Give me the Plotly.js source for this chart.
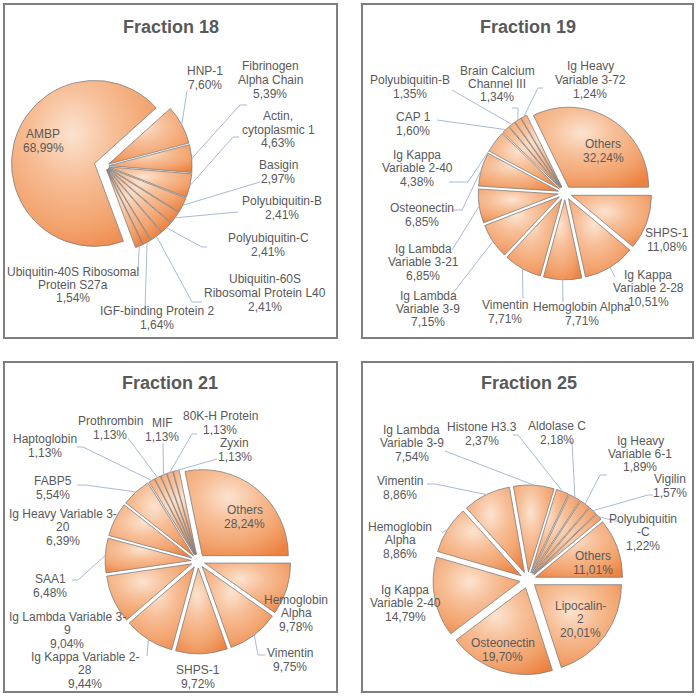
<!DOCTYPE html>
<html>
<head>
<meta charset="utf-8">
<script src="https://cdn.plot.ly/plotly-3.0.1.min.js"></script>
<style>html,body{margin:0;padding:0;background:#fff}</style>
</head>
<body>
<div id="chart" style="width:700px;height:700px"></div>
<script>
// ---------------- data ----------------
const cats18 = ['HNP-1','Fibrinogen Alpha Chain','Actin, cytoplasmic 1','Basigin','Polyubiquitin-B','Polyubiquitin-C','Ubiquitin-60S Ribosomal Protein L40','IGF-binding Protein 2','Ubiquitin-40S Ribosomal Protein S27a','AMBP'];
const vals18 = [7.60,5.39,4.63,2.97,2.41,2.41,2.41,1.64,1.54,68.99];
const wrap18 = ['HNP-1','Fibrinogen|Alpha Chain','Actin,|cytoplasmic 1','Basigin','Polyubiquitin-B','Polyubiquitin-C','Ubiquitin-60S|Ribosomal Protein L40','IGF-binding Protein 2','Ubiquitin-40S Ribosomal|Protein S27a','AMBP'];

const cats19 = ['SHPS-1','Ig Kappa Variable 2-28','Hemoglobin Alpha','Vimentin','Ig Lambda Variable 3-9','Ig Lambda Variable 3-21','Osteonectin','Ig Kappa Variable 2-40','CAP 1','Polyubiquitin-B','Brain Calcium Channel III','Ig Heavy Variable 3-72','Others'];
const vals19 = [11.08,10.51,7.71,7.71,7.15,6.85,6.85,4.38,1.60,1.35,1.34,1.24,32.24];
const wrap19 = ['SHPS-1','Ig Kappa|Variable 2-28','Hemoglobin Alpha','Vimentin','Ig Lambda|Variable 3-9','Ig Lambda|Variable 3-21','Osteonectin','Ig Kappa|Variable 2-40','CAP 1','Polyubiquitin-B','Brain Calcium|Channel III','Ig Heavy|Variable 3-72','Others'];

const cats21 = ['Hemoglobin Alpha','Vimentin','SHPS-1','Ig Kappa Variable 2-28','Ig Lambda Variable 3-9','SAA1','Ig Heavy Variable 3-20','FABP5','Haptoglobin','Prothrombin','MIF','80K-H Protein','Zyxin','Others'];
const vals21 = [9.78,9.75,9.72,9.44,9.04,6.48,6.39,5.54,1.13,1.13,1.13,1.13,1.13,28.24];
const wrap21 = ['Hemoglobin|Alpha','Vimentin','SHPS-1','Ig Kappa Variable 2-|28','Ig Lambda Variable 3-|9','SAA1','Ig Heavy Variable 3-|20','FABP5','Haptoglobin','Prothrombin','MIF','80K-H Protein','Zyxin','Others'];

const cats25 = ['Lipocalin-2','Osteonectin','Ig Kappa Variable 2-40','Hemoglobin Alpha','Vimentin','Ig Lambda Variable 3-9','Histone H3.3','Aldolase C','Ig Heavy Variable 6-1','Vigilin','Polyubiquitin-C','Others'];
const vals25 = [20.01,19.70,14.79,8.86,8.86,7.54,2.37,2.18,1.89,1.57,1.22,11.01];
const wrap25 = ['Lipocalin-|2','Osteonectin','Ig Kappa|Variable 2-40','Hemoglobin|Alpha','Vimentin','Ig Lambda|Variable 3-9','Histone H3.3','Aldolase C','Ig Heavy|Variable 6-1','Vigilin','Polyubiquitin|-C','Others'];

// ---------------- label placement (px: text centre, leader end, elbow x) ----------------
const place18 = [[205,78,187,91],[270,80,240,105,247],[278,130,233,137,239],[278,172,260,182],[282,208,238,212],[268,245,202,247,207],[265,293,192,302,202],[157,318,145,310],[73,285,138,271],[43,141]];
const place19 = [[667,240],[648,288,615,277],[582,314,563,302],[505,312,523,298],[428,309,453,293],[423,262,452,250],[422,215,462,210,453],[417,168,468,182,449],[413,124,437,120],[410,87,452,90],[497,84,518,108,512],[590,80,538,88,543],[603,151]];
const place21 = [[296,613],[290,660,258,655,265],[198,677],[85,670,147,656],[67,630],[50,586,78,580,72],[63,527],[53,488,85,485,77],[45,446,83,447,77],[110,428,128,438],[162,430,163,443],[220,423,192,434,197],[235,450,217,459],[245,517]];
const place25 = [[580,619],[503,650],[405,603],[400,540,442,533],[400,488,435,484,427],[412,443,445,451],[482,434,518,435,513],[557,433,572,442,567],[640,454,600,475,607],[670,486,648,495,653],[643,532,615,521,620],[593,563]];

// ---------------- layout config ----------------
const W = 700, H = 700;
const TXT = '#595959', LEAD = '#A9BAD3', BOX = '#7f7f7f', FILL = '#F3A673';
const FONT = 'Liberation Sans, Arial, sans-serif';

const charts = [
  {title:'Fraction 18', cats:cats18, vals:vals18, wrap:wrap18, place:place18, box:[4,4,337,338], tpos:[171,27], c:[105,166], R:83, rot:48,
   pull:cats18.map(c => c === 'AMBP' ? 0.13 : 0.05)},
  {title:'Fraction 19', cats:cats19, vals:vals19, wrap:wrap19, place:place19, box:[362,4,693,338], tpos:[528,27], c:[565,193], R:80, rot:90,
   pull:cats19.map(() => 0.085)},
  {title:'Fraction 21', cats:cats21, vals:vals21, wrap:wrap21, place:place21, box:[4,362,337,692], tpos:[170,383], c:[198,561], R:86, rot:90,
   pull:cats21.map(() => 0.08)},
  {title:'Fraction 25', cats:cats25, vals:vals25, wrap:wrap25, place:place25, box:[362,362,693,692], tpos:[529,383], c:[528,580], R:87, rot:90,
   pull:cats25.map(() => 0.092)}
];

const px = x => x / W;
const py = y => 1 - y / H;
const pct = v => v.toFixed(2).replace('.', ',') + '%';

const traces = [], shapes = [], annotations = [];

charts.forEach(ch => {
  const maxPull = Math.max(...ch.pull);
  const half = ch.R * (1 + maxPull);
  const [cx, cy] = ch.c;
  traces.push({
    type:'pie', labels:ch.cats, values:ch.vals, sort:false, direction:'clockwise', rotation:ch.rot,
    pull:ch.pull, textinfo:'none', hoverinfo:'none', showlegend:false,
    marker:{colors:ch.cats.map(() => FILL), line:{color:BOX, width:0.8}},
    domain:{x:[px(cx - half), px(cx + half)], y:[py(cy + half), py(cy - half)]}
  });
  // panel frame
  const [x0,y0,x1,y1] = ch.box;
  shapes.push({type:'rect', xref:'paper', yref:'paper', x0:px(x0), x1:px(x1), y0:py(y1), y1:py(y0),
    line:{color:BOX, width:2}, fillcolor:'rgba(0,0,0,0)'});
  // title
  annotations.push({xref:'paper', yref:'paper', x:px(ch.tpos[0]), y:py(ch.tpos[1]), xanchor:'center', yanchor:'middle',
    showarrow:false, text:'<b>' + ch.title + '</b>', font:{family:FONT, size:18, color:TXT}});
  // labels + leaders
  const total = ch.vals.reduce((a,b) => a + b, 0);
  let cum = 0;
  ch.vals.forEach((v, i) => {
    const a0 = ch.rot + cum / total * 360;
    cum += v;
    const a1 = ch.rot + cum / total * 360;
    const mid = (a0 + a1) / 2 * Math.PI / 180;
    const dist = ch.R * (1 + ch.pull[i]);
    const sx = cx + dist * Math.sin(mid), sy = cy - dist * Math.cos(mid);
    const p = ch.place[i];
    const lines = ch.wrap[i].split('|').concat([pct(v)]);
    const n = lines.length, LH = 13.5;
    lines.forEach((ln, k) => {
      annotations.push({xref:'paper', yref:'paper', x:px(p[0]), y:py(p[1] + (k - (n - 1) / 2) * LH),
        xanchor:'center', yanchor:'middle', showarrow:false, text:ln, font:{family:FONT, size:12, color:TXT}});
    });
    if (p.length >= 4) {
      let d = `M${px(sx)},${py(sy)} L${px(p[2])},${py(p[3])}`;
      if (p.length >= 5) d += ` L${px(p[4])},${py(p[3])}`;
      shapes.push({type:'path', xref:'paper', yref:'paper', path:d, line:{color:LEAD, width:1}});
    }
  });
});

const layout = {width:W, height:H, margin:{l:0,r:0,t:0,b:0}, paper_bgcolor:'#fff', plot_bgcolor:'#fff',
  showlegend:false, shapes:shapes, annotations:annotations, font:{family:FONT}};

Plotly.newPlot('chart', traces, layout, {staticPlot:true, displayModeBar:false}).then(gd => {
  try {
    const NS = 'http://www.w3.org/2000/svg';
    const svg = gd.querySelector('svg.main-svg');
    let defs = svg.querySelector('defs');
    if (!defs) { defs = document.createElementNS(NS, 'defs'); svg.insertBefore(defs, svg.firstChild); }
    const g = document.createElementNS(NS, 'radialGradient');
    g.setAttribute('id', 'sliceGrad');
    g.setAttribute('cx', '0.42'); g.setAttribute('cy', '0.32'); g.setAttribute('r', '0.8');
    [['0','#FCE3D0'],['0.35','#F7BF98'],['0.7','#F3A46F'],['1','#EC8242']].forEach(s => {
      const st = document.createElementNS(NS, 'stop');
      st.setAttribute('offset', s[0]); st.setAttribute('stop-color', s[1]);
      g.appendChild(st);
    });
    defs.appendChild(g);
    gd.querySelectorAll('g.slice path.surface').forEach(p => { p.style.fill = 'url(#sliceGrad)'; });
  } catch (e) {}
});
</script>
</body>
</html>
